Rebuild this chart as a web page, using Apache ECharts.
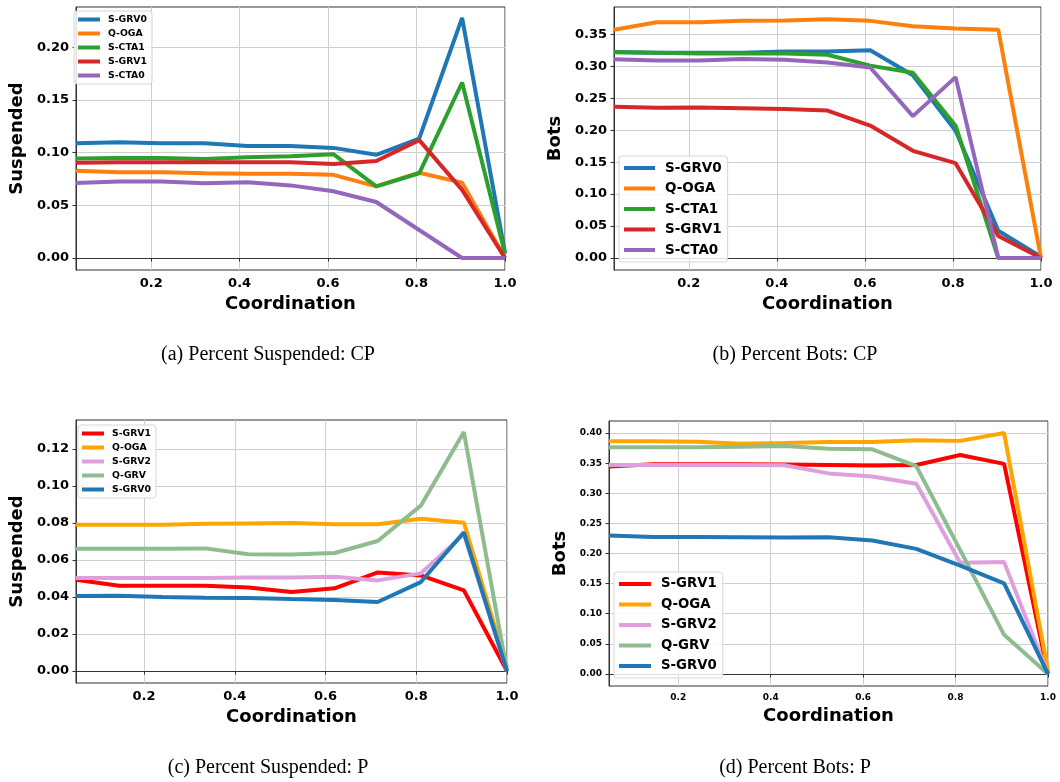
<!DOCTYPE html>
<html>
<head>
<meta charset="utf-8">
<script src="https://cdn.jsdelivr.net/npm/echarts@6/dist/echarts.min.js"></script>
<style>
  html, body { margin: 0; padding: 0; background: #fff; }
  #wrap { position: relative; width: 1060px; height: 782px; }
  .panel { position: absolute; width: 530px; height: 391px; }
</style>
</head>
<body>
<div id="wrap">
  <div class="panel" id="pa" style="left:0;top:0"></div>
  <div class="panel" id="pb" style="left:530px;top:0"></div>
  <div class="panel" id="pc" style="left:0;top:391px"></div>
  <div class="panel" id="pd" style="left:530px;top:391px"></div>
</div>
<script>
// x positions (coordination thresholds)
const xCP = [0.03, 0.127, 0.224, 0.321, 0.418, 0.515, 0.612, 0.709, 0.806, 0.903, 1.0];
const xP = [0.05, 0.145, 0.24, 0.335, 0.43, 0.525, 0.62, 0.715, 0.81, 0.905, 1.0];

const xTicks = [0.2, 0.4, 0.6, 0.8, 1.0];
const yTicksA = [0, 0.05, 0.10, 0.15, 0.20];
const yTicksB = [0, 0.05, 0.10, 0.15, 0.20, 0.25, 0.30, 0.35];
const yTicksC = [0, 0.02, 0.04, 0.06, 0.08, 0.10, 0.12];
const yTicksD = [0, 0.05, 0.10, 0.15, 0.20, 0.25, 0.30, 0.35, 0.40];

// (a) percent suspended, CP
const susCP_SGRV0 = [0.109, 0.110, 0.109, 0.109, 0.1065, 0.1065, 0.1046, 0.098, 0.1135, 0.228, 0.005];
const susCP_QOGA  = [0.083, 0.0815, 0.0815, 0.0805, 0.080, 0.080, 0.079, 0.068, 0.081, 0.0716, 0];
const susCP_SCTA1 = [0.0945, 0.095, 0.095, 0.094, 0.0957, 0.0967, 0.0986, 0.068, 0.0805, 0.1667, 0.004];
const susCP_SGRV1 = [0.0906, 0.091, 0.091, 0.091, 0.091, 0.091, 0.0894, 0.0922, 0.112, 0.0647, 0];
const susCP_SCTA0 = [0.0713, 0.0726, 0.0726, 0.071, 0.072, 0.069, 0.0634, 0.0532, 0.0266, 0, 0];

// (b) percent bots, CP
const botCP_SGRV0 = [0.3224, 0.321, 0.321, 0.321, 0.323, 0.323, 0.325, 0.286, 0.199, 0.0427, 0.002];
const botCP_QOGA  = [0.357, 0.3688, 0.369, 0.371, 0.3714, 0.3734, 0.371, 0.3625, 0.359, 0.357, 0];
const botCP_SCTA1 = [0.322, 0.321, 0.320, 0.320, 0.320, 0.318, 0.301, 0.290, 0.207, 0, 0];
const botCP_SGRV1 = [0.2365, 0.235, 0.2354, 0.2344, 0.2333, 0.2307, 0.2073, 0.1677, 0.1484, 0.0344, 0];
const botCP_SCTA0 = [0.311, 0.309, 0.309, 0.3115, 0.310, 0.306, 0.298, 0.222, 0.283, 0, 0];

// (c) percent suspended, P
const susP_SGRV1 = [0.0494, 0.0461, 0.0461, 0.0461, 0.0452, 0.0427, 0.0447, 0.0533, 0.0517, 0.0436, 0];
const susP_QOGA  = [0.0791, 0.0791, 0.0791, 0.0796, 0.0798, 0.080, 0.0793, 0.0793, 0.0823, 0.0802, 0.002];
const susP_SGRV2 = [0.0503, 0.0503, 0.0503, 0.0503, 0.0506, 0.0505, 0.051, 0.049, 0.0528, 0.074, 0];
const susP_QGRV  = [0.0661, 0.0661, 0.0661, 0.0663, 0.0631, 0.063, 0.0638, 0.0703, 0.0894, 0.1292, 0];
const susP_SGRV0 = [0.0405, 0.0407, 0.040, 0.0396, 0.0395, 0.0389, 0.0384, 0.0373, 0.0481, 0.075, 0];

// (d) percent bots, P
const botP_SGRV1 = [0.3444, 0.348, 0.348, 0.348, 0.3477, 0.347, 0.346, 0.347, 0.3636, 0.3488, 0];
const botP_QOGA  = [0.3862, 0.3862, 0.3857, 0.3824, 0.3835, 0.385, 0.385, 0.388, 0.387, 0.400, 0.005];
const botP_SGRV2 = [0.347, 0.347, 0.347, 0.347, 0.3466, 0.333, 0.3278, 0.3157, 0.1846, 0.1857, 0];
const botP_QGRV  = [0.3763, 0.3763, 0.3763, 0.3774, 0.3785, 0.374, 0.373, 0.345, 0.2055, 0.065, 0];
const botP_SGRV0 = [0.2297, 0.2275, 0.2275, 0.227, 0.2264, 0.227, 0.2215, 0.2077, 0.180, 0.1504, 0];

const FONT = 'DejaVu Sans';

function pairs(xs, ys) {
  return xs.map((x, i) => [x, ys[i]]);
}

function makePanel(id, p) {
  const chart = echarts.init(document.getElementById(id));
  const option = {
    animation: false,
    grid: {
      left: p.grid[0], top: p.grid[1], width: p.grid[2], height: p.grid[3],
      show: true, borderColor: '#333', borderWidth: 1
    },
    xAxis: {
      type: 'value', min: p.xMin, max: 1.0,
      name: 'Coordination', nameLocation: 'middle', nameGap: p.xNameGap,
      nameTextStyle: { fontFamily: FONT, fontWeight: 'bold', fontSize: 18, color: '#000' },
      axisLine: { show: true, lineStyle: { color: '#333' } },
      axisTick: { show: true, length: 3.5, customValues: xTicks, lineStyle: { color: '#333' } },
      axisLabel: {
        customValues: xTicks, margin: p.labelMargin,
        fontFamily: FONT, fontWeight: 'bold', fontSize: p.tickFont, color: '#000',
        formatter: v => v.toFixed(1)
      },
      splitLine: { show: true, lineStyle: { color: '#cfcfcf', width: 1 } }
    },
    yAxis: {
      type: 'value', min: p.yMin, max: p.yMax,
      name: p.yName, nameLocation: 'middle', nameGap: p.yNameGap, nameRotate: 90,
      nameTextStyle: { fontFamily: FONT, fontWeight: 'bold', fontSize: 18, color: '#000' },
      axisLine: { show: true, lineStyle: { color: '#333' } },
      axisTick: { show: true, length: 3.5, customValues: p.yTicks, lineStyle: { color: '#333' } },
      axisLabel: {
        customValues: p.yTicks, margin: p.labelMargin,
        fontFamily: FONT, fontWeight: 'bold', fontSize: p.tickFont, color: '#000',
        formatter: v => v.toFixed(2)
      },
      splitLine: { show: true, lineStyle: { color: '#cfcfcf', width: 1 } }
    },
    legend: {
      orient: 'vertical',
      left: p.legend.left, top: p.legend.top,
      padding: p.legend.padding,
      icon: 'rect',
      itemWidth: p.legend.itemWidth, itemHeight: 4,
      itemGap: p.legend.gap,
      backgroundColor: 'rgba(255,255,255,0.85)',
      borderColor: '#d6d6d6', borderWidth: 1, borderRadius: 3,
      textStyle: {
        fontFamily: FONT, fontWeight: 'bold', fontSize: p.legend.font,
        lineHeight: p.legend.lineHeight, color: '#000',
        padding: [0, 0, 0, p.legend.textPad]
      },
      data: p.series.map(s => s.name)
    },
    graphic: [{
      type: 'text',
      x: p.caption[0], y: p.caption[1],
      style: {
        text: p.captionText,
        font: '20px "Liberation Serif"',
        fill: '#000',
        align: 'center', verticalAlign: 'middle',
        textAlign: 'center', textVerticalAlign: 'middle'
      }
    }],
    series: p.series.map(s => ({
      type: 'line',
      name: s.name,
      data: pairs(p.xs, s.data),
      symbol: 'none',
      color: s.color,
      lineStyle: { width: 4, color: s.color },
      itemStyle: { color: s.color }
    }))
  };
  chart.setOption(option);
}

makePanel('pa', {
  grid: [71, 7, 434, 263], xMin: 0.03, yMin: -0.01135, yMax: 0.2384, yTicks: yTicksA,
  yName: 'Suspended', xNameGap: 22, yNameGap: 44, tickFont: 13, labelMargin: 7,
  xs: xCP,
  legend: { left: 74, top: 11, padding: [3, 5, 3, 4], itemWidth: 22, gap: 3, font: 9.3, lineHeight: 11, textPad: 3 },
  caption: [268, 355], captionText: '(a) Percent Suspended: CP',
  series: [
    { name: 'S-GRV0', color: '#1f77b4', data: susCP_SGRV0 },
    { name: 'Q-OGA', color: '#ff7f0e', data: susCP_QOGA },
    { name: 'S-CTA1', color: '#2ca02c', data: susCP_SCTA1 },
    { name: 'S-GRV1', color: '#d62728', data: susCP_SGRV1 },
    { name: 'S-CTA0', color: '#9467bd', data: susCP_SCTA0 }
  ]
});

makePanel('pb', {
  grid: [84, 7, 427, 263], xMin: 0.03, yMin: -0.0187, yMax: 0.3927, yTicks: yTicksB,
  yName: 'Bots', xNameGap: 22, yNameGap: 43, tickFont: 13, labelMargin: 7,
  xs: xCP,
  legend: { left: 89, top: 156, padding: [4, 6, 4, 5], itemWidth: 31, gap: 4.5, font: 13.5, lineHeight: 16, textPad: 5 },
  caption: [265, 355], captionText: '(b) Percent Bots: CP',
  series: [
    { name: 'S-GRV0', color: '#1f77b4', data: botCP_SGRV0 },
    { name: 'Q-OGA', color: '#ff7f0e', data: botCP_QOGA },
    { name: 'S-CTA1', color: '#2ca02c', data: botCP_SCTA1 },
    { name: 'S-GRV1', color: '#d62728', data: botCP_SGRV1 },
    { name: 'S-CTA0', color: '#9467bd', data: botCP_SCTA0 }
  ]
});

makePanel('pc', {
  grid: [74, 29, 433, 263], xMin: 0.05, yMin: -0.00646, yMax: 0.1357, yTicks: yTicksC,
  yName: 'Suspended', xNameGap: 22, yNameGap: 43, tickFont: 13, labelMargin: 7,
  xs: xP,
  legend: { left: 78, top: 34, padding: [3, 5, 3, 4], itemWidth: 22, gap: 3, font: 9.3, lineHeight: 11, textPad: 3 },
  caption: [268, 377], captionText: '(c) Percent Suspended: P',
  series: [
    { name: 'S-GRV1', color: '#ff0000', data: susP_SGRV1 },
    { name: 'Q-OGA', color: '#ffa500', data: susP_QOGA },
    { name: 'S-GRV2', color: '#dda0dd', data: susP_SGRV2 },
    { name: 'Q-GRV', color: '#8fbc8f', data: susP_QGRV },
    { name: 'S-GRV0', color: '#1f77b4', data: susP_SGRV0 }
  ]
});

makePanel('pd', {
  grid: [79, 30, 439, 265], xMin: 0.05, yMin: -0.02, yMax: 0.42, yTicks: yTicksD,
  yName: 'Bots', xNameGap: 19, yNameGap: 35, tickFont: 9, labelMargin: 7,
  xs: xP,
  legend: { left: 84, top: 181, padding: [4, 6, 4, 5], itemWidth: 32, gap: 4.5, font: 13.3, lineHeight: 16, textPad: 5 },
  caption: [265, 377], captionText: '(d) Percent Bots: P',
  series: [
    { name: 'S-GRV1', color: '#ff0000', data: botP_SGRV1 },
    { name: 'Q-OGA', color: '#ffa500', data: botP_QOGA },
    { name: 'S-GRV2', color: '#dda0dd', data: botP_SGRV2 },
    { name: 'Q-GRV', color: '#8fbc8f', data: botP_QGRV },
    { name: 'S-GRV0', color: '#1f77b4', data: botP_SGRV0 }
  ]
});
</script>
</body>
</html>
